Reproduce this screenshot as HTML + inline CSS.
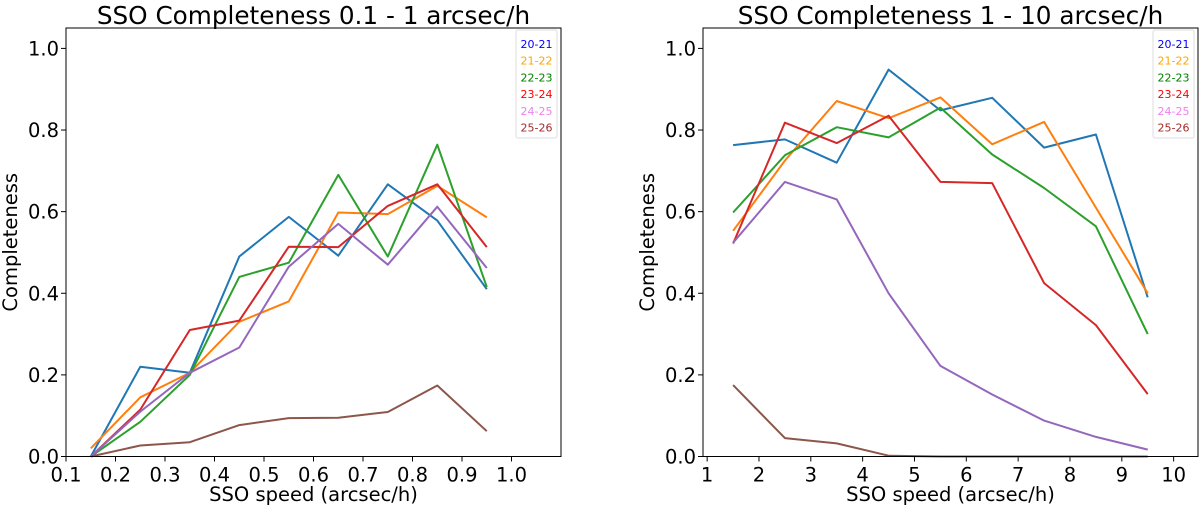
<!DOCTYPE html>
<html><head><meta charset="utf-8"><style>
html,body{margin:0;padding:0;background:#fff;}
svg{display:block;font-family:"DejaVu Sans","Liberation Sans",sans-serif;}
</style></head><body>
<svg id="fig" width="1200" height="509" viewBox="0 0 1200 509"></svg>
<script>
const seriesNames=["20-21","21-22","22-23","23-24","24-25","25-26"];
const lineColors=["#1f77b4","#ff7f0e","#2ca02c","#d62728","#9467bd","#8c564b"];
const legendColors=["blue","orange","green","red","violet","brown"];
const leftX=[0.15,0.25,0.35,0.45,0.55,0.65,0.75,0.85,0.95];
const leftBlue=[0,0.22,0.205,0.49,0.587,0.492,0.667,0.578,0.41];
const leftOrange=[0.02,0.145,0.205,0.33,0.38,0.598,0.594,0.663,0.586];
const leftGreen=[0,0.085,0.2,0.44,0.475,0.69,0.49,0.764,0.415];
const leftRed=[0,0.115,0.31,0.333,0.514,0.513,0.614,0.667,0.513];
const leftPurple=[0,0.11,0.205,0.267,0.465,0.57,0.47,0.612,0.462];
const leftBrown=[0,0.027,0.035,0.077,0.094,0.095,0.109,0.174,0.062];
const rightX=[1.5,2.5,3.5,4.5,5.5,6.5,7.5,8.5,9.5];
const rightBlue=[0.763,0.777,0.72,0.948,0.848,0.879,0.757,0.789,0.39];
const rightOrange=[0.553,0.725,0.871,0.829,0.88,0.765,0.82,0.61,0.4];
const rightGreen=[0.598,0.738,0.807,0.782,0.855,0.74,0.658,0.564,0.3];
const rightRed=[0.522,0.818,0.768,0.835,0.673,0.67,0.425,0.322,0.153];
const rightPurple=[0.524,0.673,0.63,0.4,0.222,0.152,0.088,0.048,0.017];
const rightBrown=[0.175,0.045,0.032,0.002,0,0,0,0,0];
const leftXTicks=[0.1,0.2,0.3,0.4,0.5,0.6,0.7,0.8,0.9,1.0];
const rightXTicks=[1,2,3,4,5,6,7,8,9,10];
const yTicks=[0,0.2,0.4,0.6,0.8,1.0];

const NS="http://www.w3.org/2000/svg";
const svg=document.getElementById('fig');
function mk(tag,attrs,parent,text){const e=document.createElementNS(NS,tag);for(const k in attrs)e.setAttribute(k,attrs[k]);if(text!==undefined)e.textContent=text;(parent||svg).appendChild(e);return e;}

function panel(p){
  const g=mk('g',{});
  
  
  const sx=v=>p.x0+(v-p.xmin)/(p.xmax-p.xmin)*(p.x1-p.x0);
  const sy=v=>p.y1-(v-0)/(1.05)*(p.y1-p.y0);
  const t=mk('text',{x:(p.x0+p.x1)/2,y:24,'text-anchor':'middle','font-size':'24.7'},g,p.title);
  
  
  for(const v of p.xticks){
    const x=sx(v);
    mk('line',{x1:x,x2:x,y1:p.y1,y2:p.y1+5,stroke:'#000','stroke-width':1},g);
    const tl=mk('text',{x:x,y:p.y1+25,'text-anchor':'middle','font-size':'19.5'},g,p.fmt(v));
    
    
  }
  for(const v of yTicks){
    const y=sy(v);
    mk('line',{x1:p.x0-5,x2:p.x0,y1:y,y2:y,stroke:'#000','stroke-width':1},g);
    const tl=mk('text',{x:p.x0-7,y:y+7,'text-anchor':'end','font-size':'19.5'},g,v.toFixed(1));
    
    
  }
  const xl=mk('text',{x:(p.x0+p.x1)/2,y:501,'text-anchor':'middle','font-size':'19.5'},g,'SSO speed (arcsec/h)');
  
  
  const yl=mk('text',{x:0,y:0,'text-anchor':'middle','font-size':'19.5',transform:`translate(${p.x0-49},${(p.y0+p.y1)/2}) rotate(-90)`},g,'Completeness');
  
  
  p.series.forEach((arr,i)=>{
    const pts=arr.map((v,j)=>sx(p.xs[j]).toFixed(1)+','+sy(v).toFixed(1)).join(' ');
    const l=mk('polyline',{points:pts,fill:'none',stroke:lineColors[i],'stroke-width':2,'stroke-linejoin':'round'},g);
    
    
  });
  const fr=mk('rect',{x:p.x0,y:p.y0,width:p.x1-p.x0,height:p.y1-p.y0,fill:'none',stroke:'#000','stroke-width':1},g);
  
  
  const lg=mk('g',{},g);
  
  
  mk('rect',{x:p.x1-45,y:p.y0+2,width:41,height:108,rx:2,fill:'#fff',stroke:'#ddd','stroke-width':1},lg);
  seriesNames.forEach((n,i)=>{
    const e=mk('text',{x:p.x1-24.5,y:p.y0+20+i*16.7,'text-anchor':'middle','font-size':'11',fill:legendColors[i]},lg,n);
    
    
  });
}
panel({name:'left-chart',title:'SSO Completeness 0.1 - 1 arcsec/h',x0:66,x1:561,y0:28,y1:456.5,xmin:0.1,xmax:1.1,xticks:leftXTicks,fmt:v=>v.toFixed(1),xs:leftX,series:[leftBlue,leftOrange,leftGreen,leftRed,leftPurple,leftBrown]});
panel({name:'right-chart',title:'SSO Completeness 1 - 10 arcsec/h',x0:703,x1:1198,y0:28,y1:456.5,xmin:0.92,xmax:10.47,xticks:rightXTicks,fmt:v=>String(v),xs:rightX,series:[rightBlue,rightOrange,rightGreen,rightRed,rightPurple,rightBrown]});
</script>
</body></html>
